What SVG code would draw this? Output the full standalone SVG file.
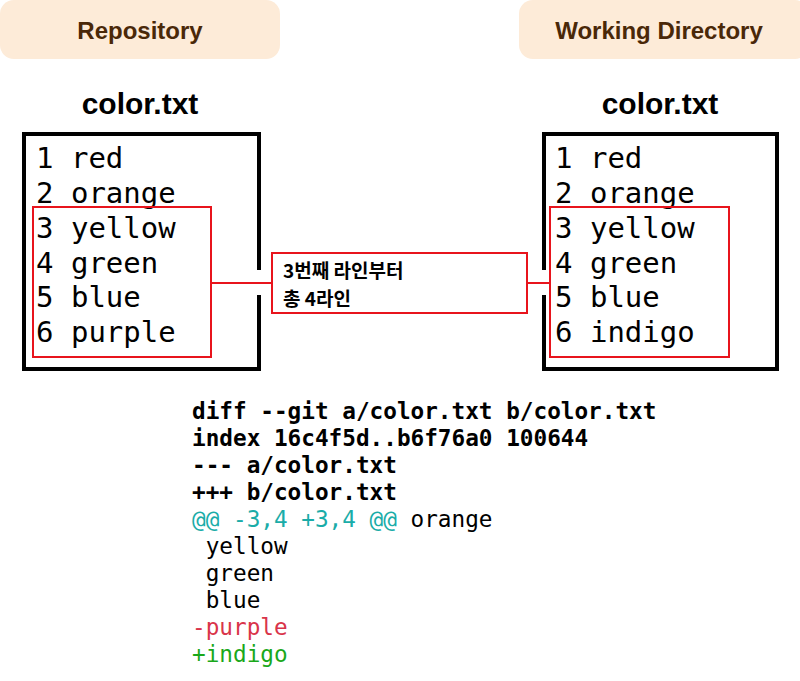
<svg xmlns="http://www.w3.org/2000/svg" width="800" height="681" viewBox="0 0 800 681">
<style>
.hdr{fill:#fdebd8}
.ht{font:bold 24px "Liberation Sans",Arial,sans-serif;fill:#4a2808;text-anchor:middle}
.ttl{font:bold 30px "Liberation Sans",Arial,sans-serif;fill:#000;text-anchor:middle}
.box{fill:none;stroke:#000;stroke-width:4}
.fl{font:29px "DejaVu Sans Mono",monospace;fill:#000}
.red{fill:none;stroke:#e8141c;stroke-width:2}
.lbl{font:bold 19px "Noto Sans CJK KR","Liberation Sans",sans-serif;fill:#000}
.d{font:22.7px "DejaVu Sans Mono",monospace;fill:#000}
.b{font-weight:bold}
.m{fill:#d9344a}
.p{fill:#1aa81a}
</style>
<g id="repo-header"><rect class="hdr" x="0" y="0" width="280" height="59" rx="14"/><text class="ht" x="140" y="39">Repository</text></g>
<g id="wd-header"><rect class="hdr" x="519" y="0" width="290" height="59" rx="14"/><text class="ht" x="659" y="39">Working Directory</text></g>
<g id="repo-file">
<text class="ttl" x="140" y="114">color.txt</text>
<path class="box" d="M259,270 V134 H24 V369 H259 V295"/>
<text class="fl" x="36" y="168">1 red</text>
<text class="fl" x="36" y="203">2 orange</text>
<text class="fl" x="36" y="238">3 yellow</text>
<text class="fl" x="36" y="273">4 green</text>
<text class="fl" x="36" y="307">5 blue</text>
<text class="fl" x="36" y="342">6 purple</text>
<rect class="red" x="33" y="207" width="178" height="150"/>
</g>
<g id="wd-file">
<text class="ttl" x="660" y="114">color.txt</text>
<path class="box" d="M544,270 V134 H777 V369 H544 V295"/>
<text class="fl" x="555" y="168">1 red</text>
<text class="fl" x="555" y="203">2 orange</text>
<text class="fl" x="555" y="238">3 yellow</text>
<text class="fl" x="555" y="273">4 green</text>
<text class="fl" x="555" y="307">5 blue</text>
<text class="fl" x="555" y="342">6 indigo</text>
<rect class="red" x="550" y="207" width="179" height="150"/>
</g>
<g id="label"><rect class="red" x="272" y="253" width="255" height="60"/>
<text class="lbl" x="283" y="278">3번째 라인부터</text><text class="lbl" x="283" y="306">총 4라인</text></g>
<g id="connectors"><path class="red" d="M211,283 H272 M527,283 H550"/></g>
<g id="diff">
<text class="d b" x="192" y="419">diff --git a/color.txt b/color.txt</text>
<text class="d b" x="192" y="446">index 16c4f5d..b6f76a0 100644</text>
<text class="d b" x="192" y="473">--- a/color.txt</text>
<text class="d b" x="192" y="500">+++ b/color.txt</text>
<text class="d" x="192" y="527"><tspan fill="#1aaca8">@@ -3,4 +3,4 @@</tspan> orange</text>
<text class="d" x="192" y="554" xml:space="preserve"> yellow</text>
<text class="d" x="192" y="581" xml:space="preserve"> green</text>
<text class="d" x="192" y="608" xml:space="preserve"> blue</text>
<text class="d m" x="192" y="635">-purple</text>
<text class="d p" x="192" y="662">+indigo</text>
</g>
</svg>
